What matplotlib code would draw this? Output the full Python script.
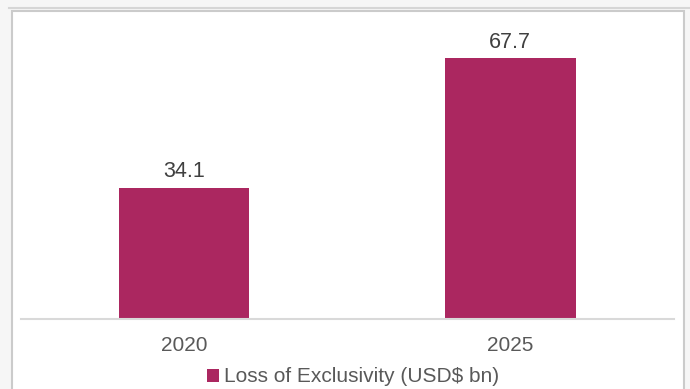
import matplotlib.pyplot as plt
from matplotlib.patches import Rectangle
from matplotlib.lines import Line2D

plt.rcParams['font.family'] = ['Liberation Sans', 'DejaVu Sans']

# datos
years = ['2020', '2025']
values = [34.1, 67.7]
serie = 'Loss of Exclusivity (USD$ bn)'
color_barra = '#ab2760'

W, H = 690, 389
fig = plt.figure(figsize=(W/100, H/100), dpi=100, facecolor='#f6f6f6')

# marco del panel
fig.add_artist(Line2D([9/W, 1], [1-7.5/H, 1-7.5/H], color='#d6d6d6', lw=1.5, zorder=-10))
fig.add_artist(Rectangle((11.5/W, -0.05), (684-11.5)/W, 1.05-11.5/H, transform=fig.transFigure,
                         facecolor='white', edgecolor='#cbcbcb', lw=1.5, zorder=-10))

ax = fig.add_axes([21/W, 1-319/H, (673.5-21)/W, (319-11)/H])
ax.set_facecolor('none')
x = range(len(years))
bars = ax.bar(x, values, width=0.40, color=color_barra, label=serie)
for b, v in zip(bars, values):
    ax.annotate(f'{v:.1f}', (b.get_x()+b.get_width()/2, v), xytext=(0, 4),
                textcoords='offset points', ha='center', va='bottom',
                fontsize=15.5, color='#404040')

ax.set_xlim(-0.5, 1.5)
ax.set_ylim(0, 80)
ax.set_xticks(list(x))
ax.set_xticklabels(years, fontsize=15, color='#595959')
ax.tick_params(axis='x', length=0, pad=12)
ax.set_yticks([])
for s in ['top', 'right', 'left']:
    ax.spines[s].set_visible(False)
ax.spines['bottom'].set_color('#d9d9d9')
ax.spines['bottom'].set_linewidth(1.5)

ax.legend(loc='center', bbox_to_anchor=(353/W, 1-377/H), bbox_transform=fig.transFigure,
          frameon=False, fontsize=15, handlelength=0.58, handleheight=0.58,
          handletextpad=0.2, labelcolor='#595959', borderpad=0)

plt.savefig('out.png', dpi=100, facecolor=fig.get_facecolor())
